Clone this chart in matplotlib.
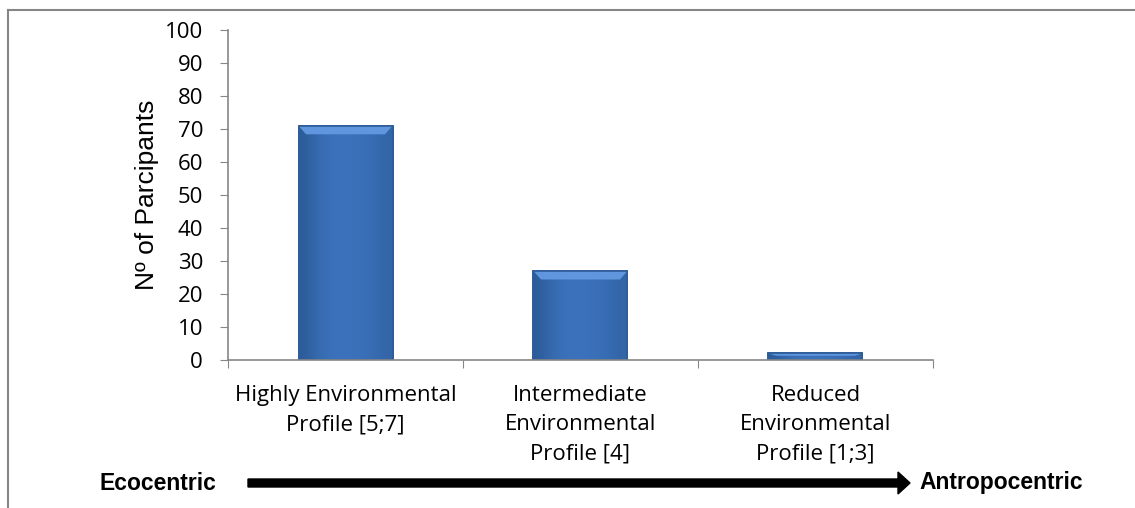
import numpy as np
import matplotlib.pyplot as plt
from matplotlib.patches import FancyArrow, Polygon
from matplotlib.lines import Line2D
from matplotlib.colors import LinearSegmentedColormap

# Anzahl Teilnehmer je Umweltprofil
profile = ["Highly Environmental\nProfile [5;7]",
           "Intermediate\nEnvironmental\nProfile [4]",
           "Reduced\nEnvironmental\nProfile [1;3]"]
teilnehmer = [71, 27, 2]
y_ticks = [0, 10, 20, 30, 40, 50, 60, 70, 80, 90, 100]

grau = "#868686"

fig = plt.figure(figsize=(11.35, 5.08), dpi=100)
ax = fig.add_axes([0.2009, 0.2913, 0.6211, 0.6496])

x = np.arange(len(profile))
balken = ax.bar(x, teilnehmer, width=0.40, color="#3B74C1",
                edgecolor="#2C5B98", linewidth=1.2, zorder=2)

# flacher Verlauf mit dunkleren Kanten, dazu eine helle Fase oben
verlauf = np.array([[0.0, 0.55, 0.75, 0.75, 0.7, 0.6, 0.3]])
cmap = LinearSegmentedColormap.from_list("blau", ["#2D5C9A", "#4079C6"])
for b in balken:
    x0, y0 = b.get_x(), b.get_y()
    w, h = b.get_width(), b.get_height()
    im = ax.imshow(verlauf, cmap=cmap, vmin=0, vmax=1, aspect="auto",
                   extent=[x0, x0 + w, y0, y0 + h], zorder=2.5,
                   interpolation="bicubic")
    im.set_clip_path(b)
    fase = min(2.6, h * 0.35)
    dx = w * 0.08
    ax.add_patch(Polygon([[x0, y0 + h], [x0 + w, y0 + h],
                          [x0 + w - dx, y0 + h - fase], [x0 + dx, y0 + h - fase]],
                         closed=True, color="#5F96DD", lw=0, zorder=3))
    ax.add_patch(Polygon([[x0, y0 + h], [x0 + w, y0 + h], [x0 + w, y0], [x0, y0]],
                         closed=True, fill=False, ec="#2C5B98", lw=1.2, zorder=3.5))

ax.set_xlim(-0.5, 2.5)
ax.set_ylim(0, 100)
ax.set_yticks(y_ticks)
ax.set_xticks([-0.5, 0.5, 1.5, 2.5])
ax.set_xticklabels([])
ax.set_xticks(x, minor=True)
ax.set_xticklabels(profile, minor=True, fontsize=16, family="Open Sans",
                   linespacing=1.5, va="top")
ax.tick_params(axis="x", which="minor", length=0, pad=18)
ax.tick_params(axis="x", which="major", length=6, color=grau, direction="out")
ax.tick_params(axis="y", length=6, color=grau, labelsize=16, pad=12)
for lbl in ax.get_yticklabels():
    lbl.set_family("Open Sans")

for s in ["top", "right"]:
    ax.spines[s].set_visible(False)
ax.spines["left"].set_color(grau)
ax.spines["bottom"].set_color(grau)
ax.spines["left"].set_linewidth(1.2)
ax.spines["bottom"].set_linewidth(1.2)
ax.spines["bottom"].set_zorder(4)

ax.set_ylabel("Nº of Parcipants", fontsize=19, family="Liberation Sans", labelpad=4)

# Pfeil von Ecocentric nach Antropocentric
pfeil_y = 1 - 483 / 508
fig.patches.append(FancyArrow(248 / 1135, pfeil_y, (910 - 248) / 1135, 0,
                              width=8 / 508, head_width=22 / 508, head_length=12 / 1135,
                              length_includes_head=True, color="black",
                              transform=fig.transFigure, figure=fig))
fig.text(158 / 1135, pfeil_y, "Ecocentric", ha="center", va="center",
         fontsize=16.5, fontweight="bold", family="Liberation Sans")
fig.text(1001 / 1135, pfeil_y, "Antropocentric", ha="center", va="center",
         fontsize=16.5, fontweight="bold", family="Liberation Sans")

# Rahmen oben und links
fig.add_artist(Line2D([8 / 1135, 8 / 1135], [0, 1 - 10 / 508],
                      transform=fig.transFigure, color=grau, lw=1.5))
fig.add_artist(Line2D([8 / 1135, 1], [1 - 10 / 508, 1 - 10 / 508],
                      transform=fig.transFigure, color=grau, lw=1.5))

fig.savefig("out.png", dpi=100)
